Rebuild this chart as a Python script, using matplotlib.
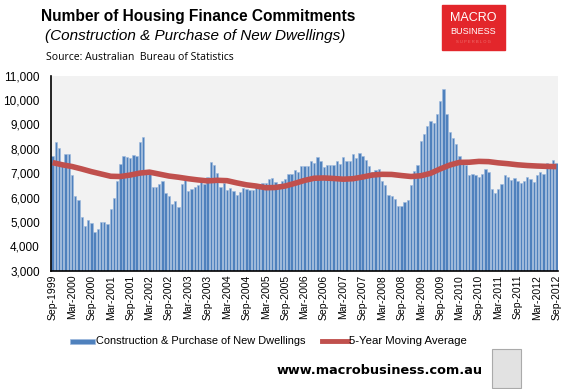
import numpy as np
import matplotlib.pyplot as plt
from matplotlib.patches import Rectangle
from matplotlib.lines import Line2D

plt.rcParams['font.family'] = ['Liberation Sans', 'DejaVu Sans']

# monthly commitments, Sep-1999 .. Sep-2012
commitments = [
    7720, 8260, 8040, 7430, 7800, 7800, 6940, 6080, 5910, 5220, 4850, 5090,
    4970, 4600, 4720, 5010, 5010, 4930, 5540, 5990, 6690, 7390, 7720, 7680,
    7620, 7760, 7720, 8290, 8500, 6950, 6950, 6450, 6450, 6570, 6690, 6200,
    6080, 5750, 5870, 5630, 6570, 6730, 6280, 6360, 6450, 6530, 6810, 6570,
    6860, 7470, 7350, 7020, 6450, 6610, 6320, 6400, 6280, 6120, 6240, 6400,
    6360, 6320, 6320, 6490, 6530, 6610, 6610, 6770, 6810, 6650, 6570, 6690,
    6770, 6980, 6980, 7140, 7060, 7310, 7310, 7310, 7510, 7430, 7680, 7510,
    7270, 7350, 7350, 7350, 7510, 7390, 7680, 7510, 7510, 7800, 7630, 7840,
    7720, 7550, 7310, 7060, 7140, 7180, 6690, 6530, 6120, 6080, 5950, 5670,
    5670, 5830, 5910, 6530, 7100, 7350, 8330, 8620, 8950, 9150, 9070, 9440,
    9970, 10460, 9440, 8700, 8450, 8210, 7720, 7390, 7350, 6940, 6980, 6940,
    6860, 6980, 7180, 7060, 6360, 6200, 6360, 6570, 6940, 6860, 6730, 6810,
    6690, 6610, 6690, 6860, 6770, 6650, 6940, 7060, 6980, 7430, 7310, 7550,
    7430,
]

# 5-year moving average, read every third month
ma_month = list(range(0, 157, 3))
moving_avg = [
    7430, 7340, 7270, 7170, 7060, 6965, 6870, 6860, 6920, 7000, 7040, 6960,
    6880, 6830, 6770, 6720, 6680, 6705, 6690, 6600, 6520, 6470, 6400, 6410,
    6470, 6580, 6700, 6790, 6800, 6780, 6750, 6770, 6840, 6920, 6950, 6945,
    6900, 6860, 6890, 6990, 7170, 7330, 7440, 7445, 7480, 7470, 7420, 7385,
    7340, 7310, 7290, 7275, 7265,
]

years = range(1999, 2013)
tick_labels = []
for y in years:
    if y > 1999:
        tick_labels.append('Mar-%d' % y)
    tick_labels.append('Sep-%d' % y)

blue = '#4F81BD'
red = '#C0504D'

fig = plt.figure(figsize=(5.69, 3.89), dpi=100)
ax = fig.add_axes([51 / 569, 1 - 270.7 / 389, 507 / 569, 195.2 / 389])
ax.set_facecolor('#F2F2F2')

x = np.arange(len(commitments))
ax.bar(x, commitments, width=0.72, color=blue, edgecolor='#9DB9DE',
       linewidth=0.4, zorder=2)
ax.plot(ma_month, moving_avg, color=red, linewidth=4, zorder=3,
        solid_capstyle='butt')

ax.set_xlim(-0.5, len(commitments) - 0.5)
ax.set_ylim(3000, 11000)
ax.set_yticks(range(3000, 11001, 1000))
ax.set_yticklabels(['{:,}'.format(v) for v in range(3000, 11001, 1000)],
                   fontsize=8.5)
ax.set_xticks(range(0, len(commitments), 6))
ax.set_xticklabels(tick_labels, rotation=90, fontsize=7.5)
ax.tick_params(axis='both', length=0, pad=3)
ax.tick_params(axis='y', pad=8)
for s in ['top', 'right']:
    ax.spines[s].set_visible(False)
ax.spines['left'].set_linewidth(1.2)
ax.spines['bottom'].set_linewidth(1.2)

# titles
fig.text(41 / 569, 1 - 16 / 389, 'Number of Housing Finance Commitments',
         fontsize=11.2, fontweight='bold', va='center', ha='left')
fig.text(45 / 569, 1 - 36 / 389, '(Construction & Purchase of New Dwellings)',
         fontsize=11, style='italic', va='center', ha='left')
fig.text(46 / 569, 1 - 58 / 389, 'Source: Australian  Bureau of Statistics',
         fontsize=7.5, va='center', ha='left', family=['Open Sans'])

# logo
fig.patches.append(Rectangle((442 / 569, 1 - 50 / 389), 63 / 569, 45 / 389,
                             transform=fig.transFigure, color='#E3262B'))
fig.text(473.5 / 569, 1 - 18 / 389, 'MACRO', color='white', fontsize=9,
         ha='center', va='center')
fig.text(473.5 / 569, 1 - 32 / 389, 'BUSINESS', color='white', fontsize=6.5,
         ha='center', va='center')
fig.text(473.5 / 569, 1 - 42 / 389, 'S U P E R B L O G', color='#F07070',
         fontsize=3, ha='center', va='center')

# legend
leg_y = 1 - 341 / 389
fig.patches.append(Rectangle((70 / 569, leg_y - 2.5 / 389), 25 / 569, 5 / 389,
                             transform=fig.transFigure, facecolor=blue,
                             edgecolor='#9DB9DE', linewidth=0.5))
fig.text(96 / 569, leg_y, 'Construction & Purchase of New Dwellings',
         fontsize=7.9, va='center', ha='left')
fig.lines.append(Line2D([322 / 569, 348 / 569], [leg_y, leg_y],
                        transform=fig.transFigure, color=red, linewidth=3.5))
fig.text(349 / 569, leg_y, '5-Year Moving Average', fontsize=8.2,
         va='center', ha='left')

# footer
fig.text(483 / 569, 1 - 370 / 389, 'www.macrobusiness.com.au', fontsize=9.3,
         fontweight='bold', ha='right', va='center', family=['DejaVu Sans'])
fig.patches.append(Rectangle((492 / 569, 1 - 388 / 389), 29 / 569, 39 / 389,
                             transform=fig.transFigure, facecolor='#E2E2E2',
                             edgecolor='#AAAAAA', linewidth=0.8))

fig.savefig('out.png', dpi=100)
